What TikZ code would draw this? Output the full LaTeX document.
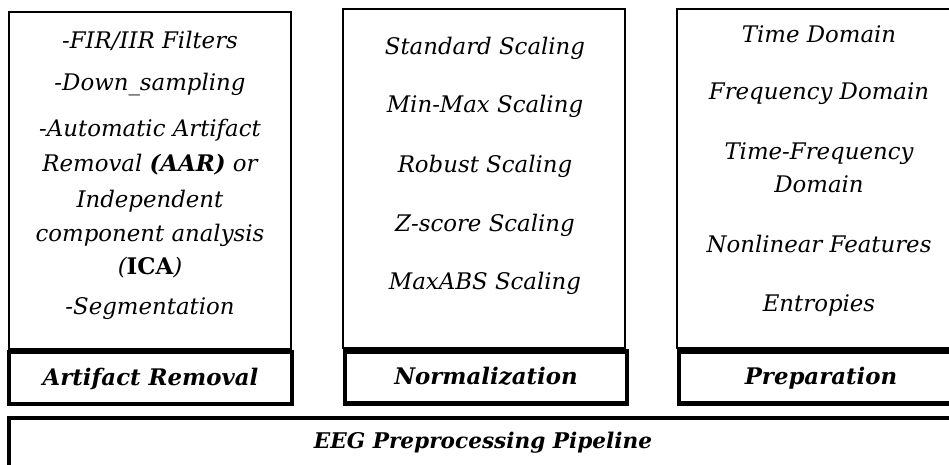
\documentclass[tikz,border=0pt]{standalone}
\usepackage{fontspec}
\setmainfont{DejaVu Serif}
\begin{document}
\begin{tikzpicture}[
  panel/.style={draw,line width=1.6pt,minimum width=5.64cm,inner sep=0pt},
  tag/.style={draw,line width=2.5pt,minimum height=1.04cm,inner sep=0pt,text height=0.95em,text depth=0.1em,font=\bfseries\itshape\fontsize{13}{15}\selectfont},
  item/.style={anchor=base,inner sep=0pt,font=\itshape\fontsize{13}{15}\selectfont}]
\clip (0,0) rectangle (18.98,9.30);
% upper boxes
\node[panel,minimum height=6.74cm] (artbox) at (3.0,5.69) {};
\node[panel,minimum height=6.78cm] (normbox) at (9.68,5.73) {};
\node[panel,minimum height=6.78cm,minimum width=5.68cm] (prepbox) at (16.38,5.73) {};
% labels
\node[tag,minimum width=5.66cm] (arttag) at (3.01,1.74) {Artifact Removal};
\node[tag,minimum width=5.64cm] (normtag) at (9.72,1.75) {Normalization};
\node[tag,minimum width=5.68cm] (preptag) at (16.42,1.75) {Preparation};
\node[tag,minimum width=18.96cm,minimum height=1.06cm,text height=0.75em,text depth=0.25em,font=\bfseries\itshape\fontsize{12.3}{15}\selectfont] (pipe) at (9.66,0.41) {EEG Preprocessing Pipeline};
% artifact removal
\node[item] (fir) at (3.0,8.32) {-FIR/IIR Filters};
\node[item] (down) at (3.0,7.48) {-Down\_sampling};
\node[item] (aar1) at (3.0,6.56) {-Automatic Artifact};
\node[item] (aar2) at (3.0,5.86) {Removal \textbf{(AAR)} or};
\node[item] (ica1) at (3.0,5.14) {Independent};
\node[item] (ica2) at (3.0,4.46) {component analysis};
\node[item] (ica3) at (3.0,3.80) {(\textbf{\upshape ICA})};
\node[item] (seg) at (3.0,3.00) {-Segmentation};
% normalization
\node[item] (std) at (9.7,8.20) {Standard Scaling};
\node[item] (minmax) at (9.7,7.04) {Min-Max Scaling};
\node[item] (robust) at (9.7,5.84) {Robust Scaling};
\node[item] (zscore) at (9.7,4.66) {Z-score Scaling};
\node[item] (maxabs) at (9.7,3.50) {MaxABS Scaling};
% preparation
\node[item] (time) at (16.38,8.44) {Time Domain};
\node[item] (freq) at (16.38,7.30) {Frequency Domain};
\node[item] (tf1) at (16.38,6.10) {Time-Frequency};
\node[item] (tf2) at (16.38,5.44) {Domain};
\node[item] (nonlin) at (16.38,4.24) {Nonlinear Features};
\node[item] (entr) at (16.38,3.06) {Entropies};
\end{tikzpicture}
\end{document}
